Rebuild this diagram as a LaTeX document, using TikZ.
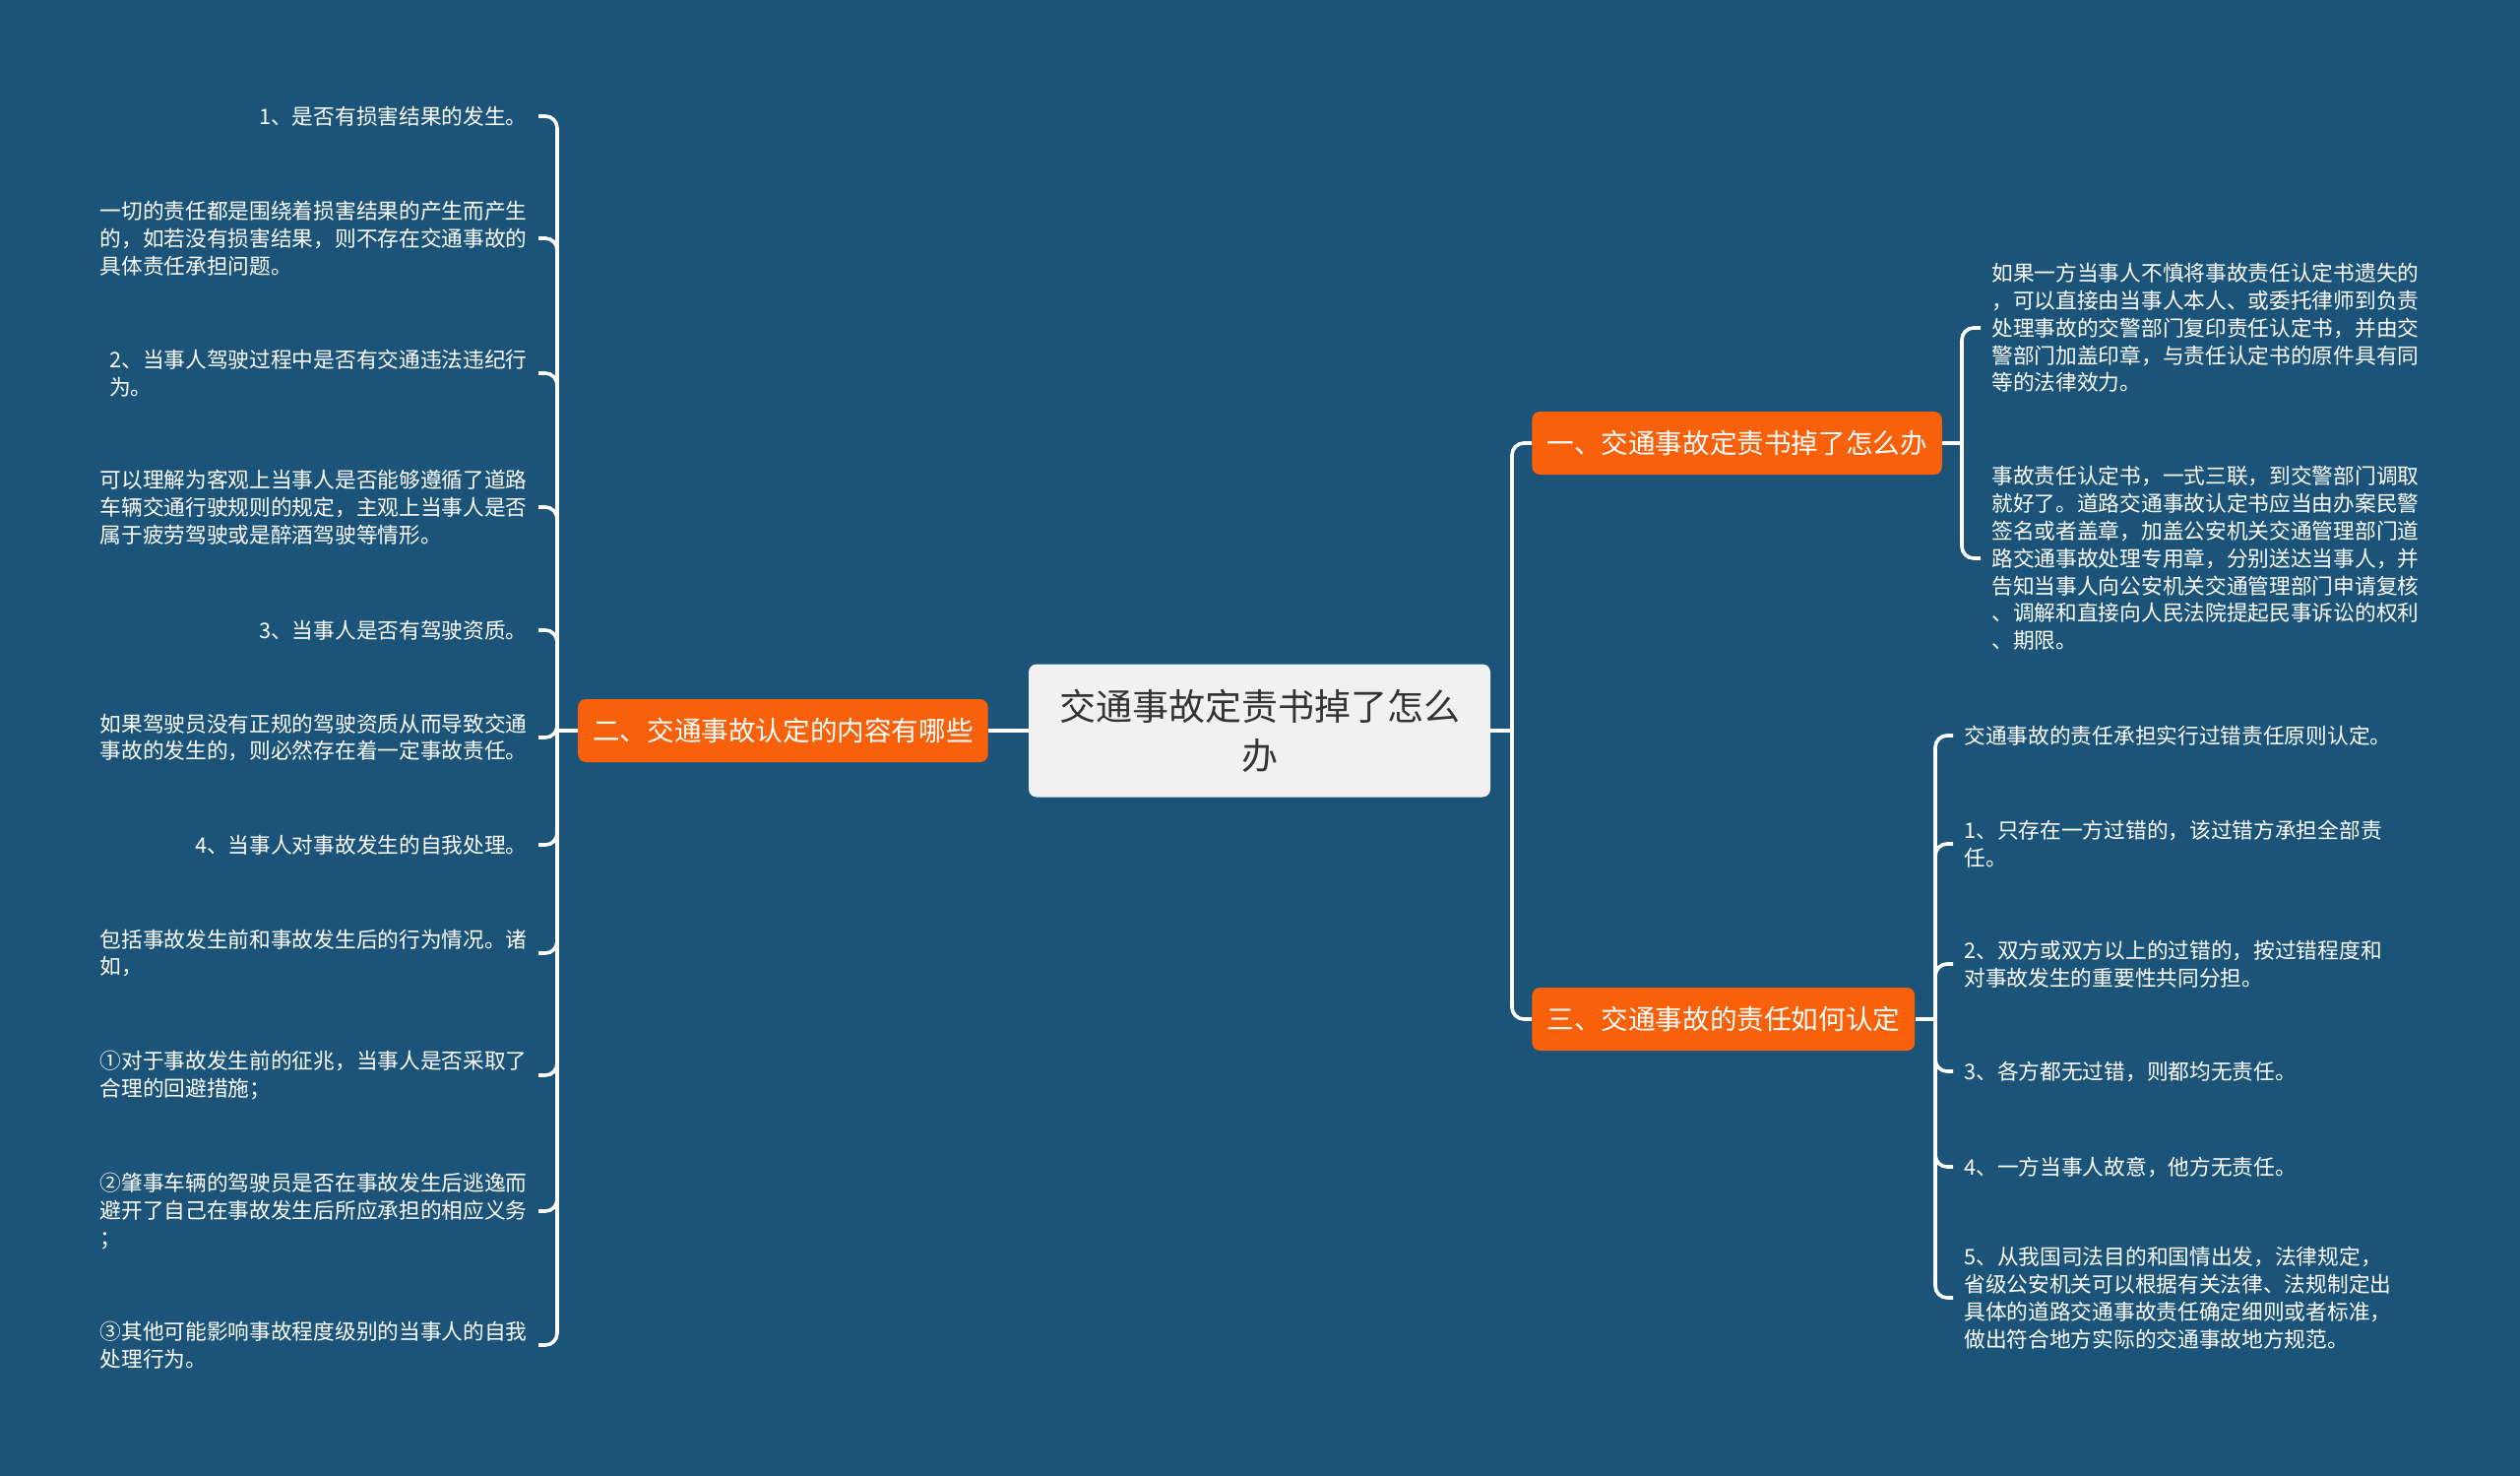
\documentclass[tikz,border=0pt]{standalone}
\usepackage{fontspec}
\setmainfont{Noto Sans CJK SC}

\definecolor{mapbg}{HTML}{1B5478}
\definecolor{maporange}{HTML}{F9600A}
\definecolor{rootgray}{HTML}{F1F1F1}
\definecolor{roottext}{HTML}{333333}

\begin{document}
\begin{tikzpicture}[
    x=0.5pt, y=-0.5pt,
    root node/.style={rectangle, rounded corners=4pt, fill=rootgray, text=roottext, align=center, minimum width=234.5pt, minimum height=67.5pt, inner sep=0pt, font=\fontsize{18.5}{25}\selectfont},
    branch node/.style={rectangle, rounded corners=4pt, fill=maporange, text=white, inner xsep=7.5pt, inner ysep=0pt, minimum height=32pt, font=\fontsize{13.8}{16}\selectfont},
    leaf node/.style={align=left, text=white, inner xsep=5.5pt, inner ysep=1pt, font=\fontsize{10.85}{13.9}\selectfont},
    main edge/.style={draw=white, line width=1.8pt},
    bend edge/.style={main edge, rounded corners=6pt}
]

% 背景
\fill[mapbg] (0,0) rectangle (2560,1499);

% 中心与分支
\node[root node] (root) at (1279.5, 742) {交通事故定责书掉了怎么\\办};
\node[branch node, anchor=east] (B2) at (1004, 742) {二、交通事故认定的内容有哪些};
\node[branch node, anchor=west] (B1) at (1556, 450) {一、交通事故定责书掉了怎么办};
\node[branch node, anchor=west] (B3) at (1556, 1035) {三、交通事故的责任如何认定};

% 分支一的叶子
\node[leaf node, anchor=west] (A1) at (2012, 333) {如果一方当事人不慎将事故责任认定书遗失的\\，可以直接由当事人本人、或委托律师到负责\\处理事故的交警部门复印责任认定书，并由交\\警部门加盖印章，与责任认定书的原件具有同\\等的法律效力。};
\node[leaf node, anchor=west] (A2) at (2012, 567) {事故责任认定书，一式三联，到交警部门调取\\就好了。道路交通事故认定书应当由办案民警\\签名或者盖章，加盖公安机关交通管理部门道\\路交通事故处理专用章，分别送达当事人，并\\告知当事人向公安机关交通管理部门申请复核\\、调解和直接向人民法院提起民事诉讼的权利\\、期限。};

% 分支二的叶子
\node[leaf node, anchor=east] (L1) at (547, 118) {1、是否有损害结果的发生。};
\node[leaf node, anchor=east] (L2) at (547, 242) {一切的责任都是围绕着损害结果的产生而产生\\的，如若没有损害结果，则不存在交通事故的\\具体责任承担问题。};
\node[leaf node, anchor=east] (L3) at (547, 379) {2、当事人驾驶过程中是否有交通违法违纪行\\为。};
\node[leaf node, anchor=east] (L4) at (547, 515) {可以理解为客观上当事人是否能够遵循了道路\\车辆交通行驶规则的规定，主观上当事人是否\\属于疲劳驾驶或是醉酒驾驶等情形。};
\node[leaf node, anchor=east] (L5) at (547, 640) {3、当事人是否有驾驶资质。};
\node[leaf node, anchor=east] (L6) at (547, 749) {如果驾驶员没有正规的驾驶资质从而导致交通\\事故的发生的，则必然存在着一定事故责任。};
\node[leaf node, anchor=east] (L7) at (547, 858) {4、当事人对事故发生的自我处理。};
\node[leaf node, anchor=east] (L8) at (547, 968) {包括事故发生前和事故发生后的行为情况。诸\\如，};
\node[leaf node, anchor=east] (L9) at (547, 1092) {①对于事故发生前的征兆，当事人是否采取了\\合理的回避措施；};
\node[leaf node, anchor=east] (L10) at (547, 1230) {②肇事车辆的驾驶员是否在事故发生后逃逸而\\避开了自己在事故发生后所应承担的相应义务\\；};
\node[leaf node, anchor=east] (L11) at (547, 1366) {③其他可能影响事故程度级别的当事人的自我\\处理行为。};

% 分支三的叶子
\node[leaf node, anchor=west] (R1) at (1984, 747) {交通事故的责任承担实行过错责任原则认定。};
\node[leaf node, anchor=west] (R2) at (1984, 857) {1、只存在一方过错的，该过错方承担全部责\\任。};
\node[leaf node, anchor=west] (R3) at (1984, 979) {2、双方或双方以上的过错的，按过错程度和\\对事故发生的重要性共同分担。};
\node[leaf node, anchor=west] (R4) at (1984, 1088) {3、各方都无过错，则都均无责任。};
\node[leaf node, anchor=west] (R5) at (1984, 1185) {4、一方当事人故意，他方无责任。};
\node[leaf node, anchor=west] (R6) at (1984, 1318) {5、从我国司法目的和国情出发，法律规定，\\省级公安机关可以根据有关法律、法规制定出\\具体的道路交通事故责任确定细则或者标准，\\做出符合地方实际的交通事故地方规范。};

% 分叉点
\coordinate (J0) at (1536, 742);
\coordinate (J1) at (1993, 450);
\coordinate (J2) at (566, 742);
\coordinate (J3) at (1966, 1035);

% 连线
\draw[main edge] (root.west) -- (B2.east);
\draw[main edge] (root.east) -- (J0);
\draw[bend edge] (J0) |- (B1.west);
\draw[bend edge] (J0) |- (B3.west);

\draw[main edge] (B1.east) -- (J1);
\foreach \n in {1, 2} \draw[bend edge] (J1) |- (A\n.west);

\draw[main edge] (B2.west) -- (J2);
\foreach \n in {1,...,11} \draw[bend edge] (J2) |- (L\n.east);

\draw[main edge] (B3.east) -- (J3);
\foreach \n in {1,...,6} \draw[bend edge] (J3) |- (R\n.west);

\end{tikzpicture}
\end{document}
